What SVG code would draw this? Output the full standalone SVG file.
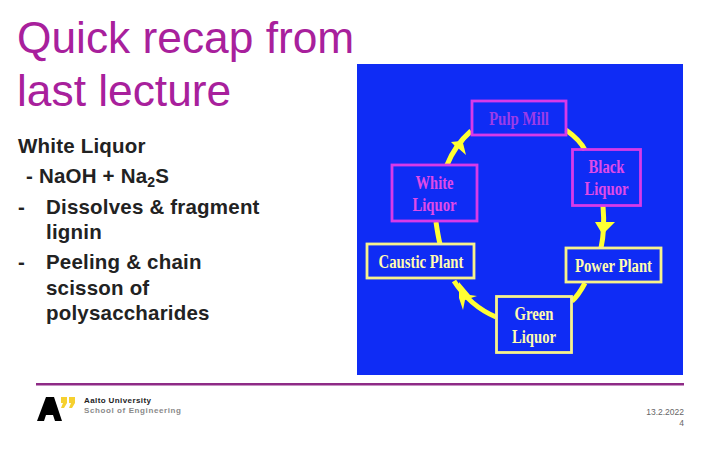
<svg xmlns="http://www.w3.org/2000/svg" width="720" height="450" viewBox="0 0 720 450">
<style>
.s{font-family:"Liberation Sans",Arial,sans-serif}
.t{font-size:44.300px;fill:#a8209c}
.b{font-size:20.500px;fill:#222;font-weight:bold;letter-spacing:.2px}
.n{font-family:"Liberation Serif","Times New Roman",serif;font-size:18px;font-weight:bold;text-anchor:middle}
.m{fill:#e04ae8}.p{fill:#9a3ce8}.y{fill:#fffbb0}
.bm{fill:none;stroke:#d83ae8;stroke-width:2.8}
.by{fill:none;stroke:#f7f28c;stroke-width:2.8}
.c{fill:none;stroke:#ffff33;stroke-width:5}
.h{fill:#ffff33}
</style>
<rect width="720" height="450" fill="#fff"/>
<text class="s t" x="17" y="53">Quick recap from</text>
<text class="s t" x="17" y="106">last lecture</text>
<g class="s b">
<text x="18" y="153">White Liquor</text>
<text x="26" y="183">- NaOH + Na<tspan font-size="14" dy="4">2</tspan><tspan dy="-4">S</tspan></text>
<text x="18" y="214">-</text><text x="46" y="214">Dissolves &amp; fragment</text>
<text x="46" y="239">lignin</text>
<text x="18" y="269">-</text><text x="46" y="269">Peeling &amp; chain</text>
<text x="46" y="295">scisson of</text>
<text x="46" y="320">polysaccharides</text>
</g>
<rect x="357" y="64" width="326" height="311" fill="#0f2cf5"/>
<g id="connectors">
<path class="c" d="M566 130Q580 140 585 150"/>
<path class="c" d="M603 206Q605 230 601 248"/>
<path class="c" d="M585 283Q578 296 572 301"/>
<path class="c" d="M496 317Q470 306 454 281"/>
<path class="c" d="M436 222Q438 236 440 244"/>
<path class="c" d="M447 165Q455 145 471 131"/>
<polygon class="h" points="451,142 461,141 471,131 463,143 466,155 458,148 452,152 455,146"/>
<polygon class="h" points="595,222 615,222 605,232 602,246 601,232"/>
<polygon class="h" points="459,282 470,295 477,296 465,300 463,310 459,298"/>
</g>
<g id="pulp-mill"><rect class="bm" x="472" y="101" width="94" height="34"/><text class="n p" x="519" y="125" textLength="60" lengthAdjust="spacingAndGlyphs">Pulp Mill</text></g>
<g id="black-liquor"><rect class="bm" x="572.500" y="149.500" width="68" height="56"/><text class="n m" x="606.500" y="173" textLength="36" lengthAdjust="spacingAndGlyphs">Black</text><text class="n m" x="606.500" y="195" textLength="44" lengthAdjust="spacingAndGlyphs">Liquor</text></g>
<g id="white-liquor"><rect class="bm" x="392" y="165" width="85" height="56"/><text class="n m" x="434.500" y="189" textLength="38" lengthAdjust="spacingAndGlyphs">White</text><text class="n m" x="434.500" y="211" textLength="44" lengthAdjust="spacingAndGlyphs">Liquor</text></g>
<g id="caustic-plant"><rect class="by" x="367" y="244" width="107" height="34"/><text class="n y" x="421" y="268" textLength="85" lengthAdjust="spacingAndGlyphs">Caustic Plant</text></g>
<g id="power-plant"><rect class="by" x="566" y="248" width="95" height="34"/><text class="n y" x="613.500" y="272" textLength="77" lengthAdjust="spacingAndGlyphs">Power Plant</text></g>
<g id="green-liquor"><rect class="by" x="496.500" y="296.500" width="75" height="56"/><text class="n y" x="534" y="320" textLength="39" lengthAdjust="spacingAndGlyphs">Green</text><text class="n y" x="534" y="343" textLength="44" lengthAdjust="spacingAndGlyphs">Liquor</text></g>
<rect x="36" y="383" width="648" height="2.500" fill="#8e2a86"/>
<g id="logo">
<polygon points="37,421 46,397 54,397 62,421 55,421 53,415 46,415 44,421" fill="#000"/>
<polygon points="61,397 67,397 67,403 64,408 61,408 63,403 61,403" fill="#f6d02f"/>
<polygon points="69,397 75,397 75,403 72,408 69,408 71,403 69,403" fill="#f6d02f"/>
<text class="s" x="84" y="403" font-size="8" font-weight="bold" fill="#222" letter-spacing=".4">Aalto University</text>
<text class="s" x="84" y="413" font-size="8" font-weight="bold" fill="#8a8a8a" letter-spacing=".6">School of Engineering</text>
</g>
<text class="s" x="684" y="415" font-size="8.500" fill="#666" text-anchor="end">13.2.2022</text>
<text class="s" x="684" y="426" font-size="8.500" fill="#666" text-anchor="end">4</text>
</svg>
